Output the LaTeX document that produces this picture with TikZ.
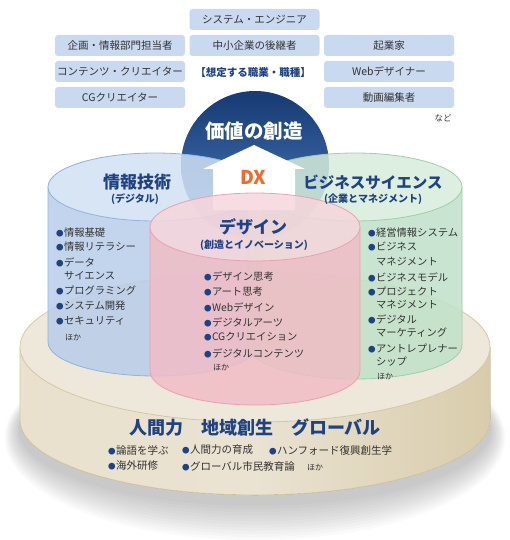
\documentclass[tikz,border=0pt]{standalone}
\usepackage{fontspec}
\newfontfamily\jp{Noto Sans CJK JP}
\definecolor{boxblue}{HTML}{C9D9EF}
\definecolor{txt}{HTML}{333333}
\definecolor{navy}{HTML}{1E4282}
\definecolor{dxor}{HTML}{EE6A30}
\definecolor{blueside}{HTML}{B8CEEA}
\definecolor{bluetop}{HTML}{D0E0F3}
\definecolor{blueedge}{HTML}{8FB3DF}
\definecolor{greenside}{HTML}{BFE1C9}
\definecolor{greentop}{HTML}{D6ECDA}
\definecolor{greenedge}{HTML}{9CCFAA}
\definecolor{pinkside}{HTML}{F0BDC6}
\definecolor{pinktop}{HTML}{F6D6DC}
\definecolor{pinkedge}{HTML}{EBA0B1}
\definecolor{beigeL}{HTML}{E9E1CC}
\definecolor{beigeM}{HTML}{EAE3D2}
\definecolor{beigeR}{HTML}{D8CCAB}
\definecolor{beigetop}{HTML}{EEE8DA}
\definecolor{beigeedge}{HTML}{D6C9A5}
\definecolor{domedark}{HTML}{163A72}
\definecolor{domelight}{HTML}{4F80C4}
\newcommand\bul{\textcolor{navy}{\fontsize{7.5}{8}\selectfont ●}\kern0.3pt}
\newcommand\ind{\phantom{\bul}}
\newcommand\cylinder[8]{%
\fill[#6,fill opacity=0.85] ({#1+#4},#2) arc[start angle=0,end angle=180,x radius=#4,y radius=#5] -- ({#1-#4},#3) arc[start angle=180,end angle=0,x radius=#4,y radius=#5] -- cycle;
\draw[#8,line width=0.8pt] ({#1-#4},#2) -- ({#1-#4},#3) arc[start angle=180,end angle=0,x radius=#4,y radius=#5] -- ({#1+#4},#2);
\fill[#7,fill opacity=0.85] (#1,#2) ellipse[x radius=#4,y radius=#5];
\draw[#8,line width=0.8pt] (#1,#2) ellipse[x radius=#4,y radius=#5];
}
\begin{document}
\begin{tikzpicture}[x=1pt,y=-1pt,
  jbox/.style={fill=boxblue,rounded corners=3pt,minimum width=130pt,minimum height=21pt,inner sep=0pt,text=txt,font=\jp\fontsize{10.5}{12}\selectfont},
  head/.style={inner sep=0pt,text=navy,font=\jp\bfseries\fontsize{17}{20}\selectfont},
  sub/.style={inner sep=0pt,text=navy,font=\jp\bfseries\fontsize{10}{12}\selectfont},
  li/.style={anchor=west,inner sep=0pt,text=txt,font=\jp\fontsize{10.3}{12}\selectfont},
  small/.style={anchor=west,inner sep=0pt,text=txt,font=\jp\fontsize{8}{9}\selectfont}]
\useasboundingbox (0,0) rectangle (510,540);
% shadow
\foreach \i in {0,...,11}{
  \fill[black,fill opacity=0.02] (255,{430+\i*0.7}) ellipse[x radius={236+\i*1.3},y radius={76+\i*2.4}];
}
% base
\fill[left color=beigeL,right color=beigeR,middle color=beigeM] (490,347) arc[start angle=0,end angle=180,x radius=235,y radius=75] -- (20,420) arc[start angle=180,end angle=0,x radius=235,y radius=75] -- cycle;
\draw[beigeedge,line width=0.8pt] (20,347) -- (20,420) arc[start angle=180,end angle=0,x radius=235,y radius=75] -- (490,347);
\fill[beigetop] (255,347) ellipse[x radius=235,y radius=75];
\draw[beigeedge,line width=0.8pt] (255,347) ellipse[x radius=235,y radius=75];
% dome
\shade[top color=domedark,bottom color=domelight] (255,165) circle[radius=74];
% top boxes
\node[jbox] (b1) at (254.5,19.5) {システム・エンジニア};
\node[jbox] (b2) at (120,45.5) {企画・情報部門担当者};
\node[jbox] (b3) at (254.5,45.5) {中小企業の後継者};
\node[jbox] (b4) at (389,45.5) {起業家};
\node[jbox] (b5) at (120,71.5) {コンテンツ・クリエイター};
\node[jbox] (b6) at (389,71.5) {Webデザイナー};
\node[jbox] (b7) at (120,97.5) {CGクリエイター};
\node[jbox] (b8) at (389,97.5) {動画編集者};
\node[inner sep=0pt,text=navy,font=\jp\bfseries\fontsize{10.5}{12}\selectfont] (kind) at (253,73) {【想定する職業・職種】};
\node[inner sep=0pt,text=txt,font=\jp\fontsize{8.5}{10}\selectfont] (nado) at (443,118) {など};
% cylinders
\cylinder{155}{187}{342}{107}{34}{blueside}{bluetop}{blueedge}
\cylinder{355}{187}{345}{107}{34}{greenside}{greentop}{greenedge}
% arrow
\fill[white] (254,145) -- (305,169) -- (295,169) -- (295,210) -- (213,210) -- (213,169) -- (203,169) -- cycle;
\cylinder{255}{227}{371}{105}{34}{pinkside}{pinktop}{pinkedge}
% titles
\node[inner sep=0pt,text=white,font=\jp\bfseries\fontsize{19.5}{22}\selectfont] (value) at (254,131) {価値の創造};
\node[inner sep=0pt,text=dxor,font=\jp\bfseries\fontsize{19}{21}\selectfont] (dx) at (253,177) {DX};
\node[head] (it) at (137,182) {情報技術};
\node[sub] (itsub) at (135,199) {(デジタル)};
\node[head,font=\jp\bfseries\fontsize{15.5}{18}\selectfont] (bs) at (373,182) {ビジネスサイエンス};
\node[sub] (bssub) at (373,199) {(企業とマネジメント)};
\node[head] (ds) at (253,227) {デザイン};
\node[sub] (dssub) at (254,245) {(創造とイノベーション)};
% blue list
\node[li] (l1) at (56,233) {\bul 情報基礎};
\node[li] (l2) at (56,247) {\bul 情報リテラシー};
\node[li] (l3) at (56,262) {\bul データ};
\node[li] (l4) at (56,276) {\ind サイエンス};
\node[li] (l5) at (56,291) {\bul プログラミング};
\node[li] (l6) at (56,306) {\bul システム開発};
\node[li] (l7) at (56,321) {\bul セキュリティ};
\node[small] (l8) at (65,337) {ほか};
% pink list
\node[li] (p1) at (204,277) {\bul デザイン思考};
\node[li] (p2) at (204,292) {\bul アート思考};
\node[li] (p3) at (204,307) {\bul Webデザイン};
\node[li] (p4) at (204,322) {\bul デジタルアーツ};
\node[li] (p5) at (204,337) {\bul CGクリエイション};
\node[li] (p6) at (204,353) {\bul デジタルコンテンツ};
\node[small] (p7) at (213,367) {ほか};
% green list
\node[li] (g1) at (368,233) {\bul 経営情報システム};
\node[li] (g2) at (368,247) {\bul ビジネス};
\node[li] (g3) at (368,262) {\ind マネジメント};
\node[li] (g4) at (368,277) {\bul ビジネスモデル};
\node[li] (g5) at (368,291) {\bul プロジェクト};
\node[li] (g6) at (368,305) {\ind マネジメント};
\node[li] (g7) at (368,319) {\bul デジタル};
\node[li] (g8) at (368,333) {\ind マーケティング};
\node[li] (g9) at (368,348) {\bul アントレプレナー};
\node[li] (g10) at (368,362) {\ind シップ};
\node[small] (g11) at (377,376) {ほか};
% base texts
\node[inner sep=0pt,text=navy,font=\jp\bfseries\fontsize{18}{20}\selectfont] (basehead) at (255,428) {人間力　地域創生　グローバル};
\node[li,font=\jp\fontsize{10.5}{12}\selectfont] (r1) at (108,450) {\bul 論語を学ぶ};
\node[li,font=\jp\fontsize{10.5}{12}\selectfont] (r2) at (182,450) {\bul 人間力の育成};
\node[li,font=\jp\fontsize{10.5}{12}\selectfont] (r3) at (269,450) {\bul ハンフォード復興創生学};
\node[li,font=\jp\fontsize{10.5}{12}\selectfont] (r4) at (108,466) {\bul 海外研修};
\node[li,font=\jp\fontsize{10.5}{12}\selectfont] (r5) at (182,466) {\bul グローバル市民教育論};
\node[small] (r6) at (307,467) {ほか};
\end{tikzpicture}
\end{document}
